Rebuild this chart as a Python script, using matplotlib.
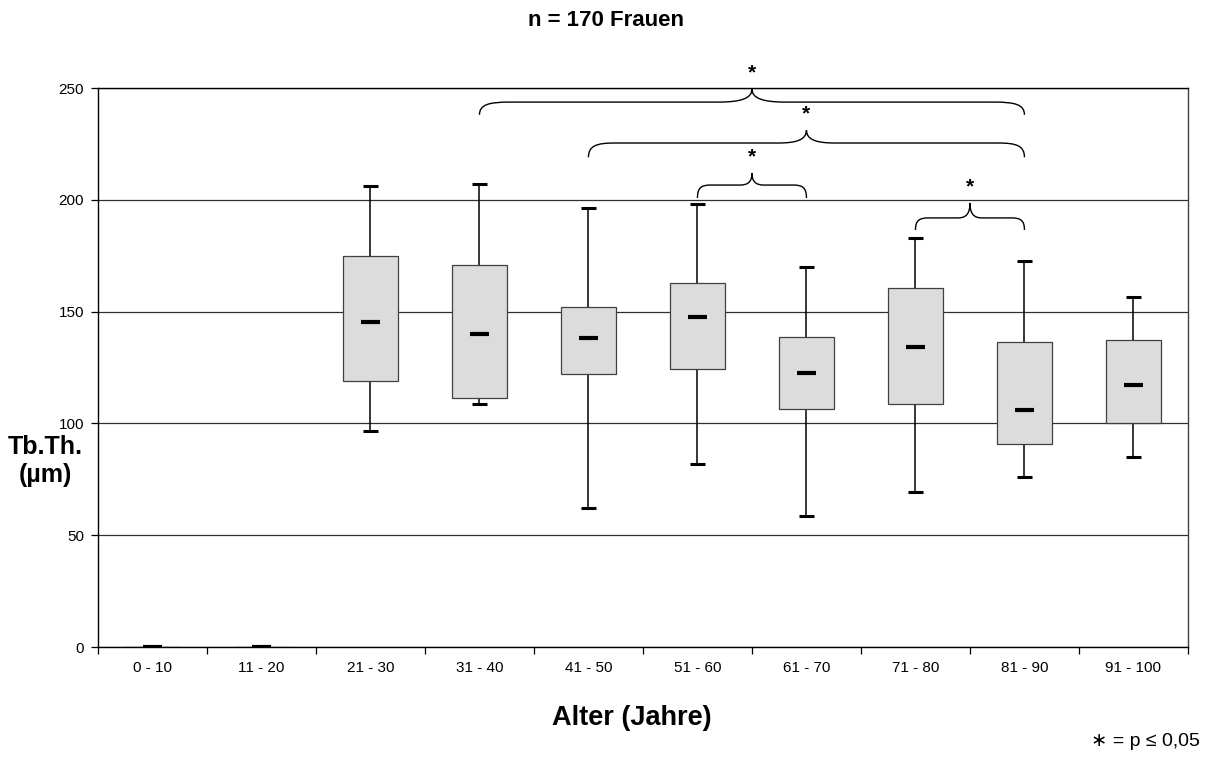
import matplotlib.pyplot as plt
from matplotlib.path import Path
from matplotlib.patches import PathPatch

plt.rcParams['font.family'] = ['Liberation Sans', 'DejaVu Sans']

# Altersgruppen und Kennwerte der Boxplots (Tb.Th. in µm)
gruppen = ['0 - 10', '11 - 20', '21 - 30', '31 - 40', '41 - 50',
           '51 - 60', '61 - 70', '71 - 80', '81 - 90', '91 - 100']
minimum = [0, 0, 96.5, 108.5, 62, 82, 58.5, 69.5, 76, 85]
q1 = [0, 0, 119, 111.5, 122, 124.5, 106.5, 108.5, 91, 100]
median = [0, 0, 145.5, 140, 138, 147.5, 122.5, 134, 106, 117]
q3 = [0, 0, 175, 171, 152, 163, 138.5, 160.5, 136.5, 137.5]
maximum = [0, 0, 206, 207, 196.5, 198, 170, 183, 172.5, 156.5]

# signifikante Vergleiche (Index der Gruppen)
vergleiche = [(3, 8), (4, 8), (5, 6), (7, 8)]
# Höhe der Klammern: Enden, gerader Teil, Spitze
klammer_hoehe = [(238, 243.7, 249.6), (219, 225.4, 231.2),
                 (200.8, 206.6, 212), (186.5, 191.9, 198.6)]


def klammer(ax, x0, x1, ye, yf, yt):
    xm = (x0 + x1) / 2
    c = 0.08 + 0.04 * (x1 - x0)
    m = 0.06 + 0.05 * (x1 - x0)
    verts = [(x0, ye), (x0, ye + (yf - ye) * 0.8), (x0 + c * 0.3, yf), (x0 + c, yf),
             (xm - m, yf),
             (xm - m * 0.35, yf), (xm, yf + (yt - yf) * 0.25), (xm, yt),
             (xm, yf + (yt - yf) * 0.25), (xm + m * 0.35, yf), (xm + m, yf),
             (x1 - c, yf),
             (x1 - c * 0.3, yf), (x1, ye + (yf - ye) * 0.8), (x1, ye)]
    codes = [Path.MOVETO, Path.CURVE4, Path.CURVE4, Path.CURVE4,
             Path.LINETO,
             Path.CURVE4, Path.CURVE4, Path.CURVE4,
             Path.CURVE4, Path.CURVE4, Path.CURVE4,
             Path.LINETO,
             Path.CURVE4, Path.CURVE4, Path.CURVE4]
    ax.add_patch(PathPatch(Path(verts, codes), fill=False, lw=1.0,
                           edgecolor='black', clip_on=False, zorder=4))
    ax.text(xm, yt + 3, '*', ha='center', va='bottom', fontsize=15,
            fontweight='bold', clip_on=False)


fig = plt.figure(figsize=(12.08, 7.58), dpi=100)
ax = fig.add_axes([0.0811, 0.1464, 0.9023, 0.7375])

x = list(range(len(gruppen)))
hoehe = [o - u for o, u in zip(q3, q1)]

ax.vlines(x, q3, maximum, color='black', lw=1.1, zorder=2)
ax.vlines(x, minimum, q1, color='black', lw=1.1, zorder=2)
ax.bar(x, hoehe, bottom=q1, width=0.5, color='#dcdcdc',
       edgecolor='#404040', lw=0.9, zorder=3)
ax.hlines(maximum, [i - 0.07 for i in x], [i + 0.07 for i in x],
          color='black', lw=2.2, zorder=3)
ax.hlines(minimum, [i - 0.07 for i in x], [i + 0.07 for i in x],
          color='black', lw=2.2, zorder=3)
ax.hlines(median, [i - 0.085 for i in x], [i + 0.085 for i in x],
          color='black', lw=3.0, zorder=4)

for (a, b), (ye, yf, yt) in zip(vergleiche, klammer_hoehe):
    klammer(ax, a, b, ye, yf, yt)

ax.set_xlim(-0.5, len(gruppen) - 0.5)
ax.set_ylim(0, 250)
ax.set_yticks([0, 50, 100, 150, 200, 250])
ax.yaxis.grid(True, color='#303030', lw=0.9)
ax.set_axisbelow(True)
ax.set_xticks([i - 0.5 for i in range(len(gruppen) + 1)])
ax.set_xticklabels([])
ax.set_xticks(x, minor=True)
ax.set_xticklabels(gruppen, minor=True)
ax.tick_params(axis='x', which='major', length=5, width=0.9, direction='out')
ax.tick_params(axis='x', which='minor', length=0, pad=10, labelsize=11)
ax.tick_params(axis='y', length=5, width=0.9, pad=5, labelsize=11)
for s in ax.spines.values():
    s.set_linewidth(1.0)
    s.set_color('black')
ax.spines['right'].set_color('#404040')

fig.text(606 / 1208, 1 - 20 / 758, 'n = 170 Frauen', ha='center', va='center',
         fontsize=16, fontweight='bold')
fig.text(45 / 1208, 1 - 461 / 758, 'Tb.Th.\n(µm)', ha='center', va='center',
         fontsize=18, fontweight='bold', linespacing=1.2)
fig.text(632 / 1208, 1 - 718 / 758, 'Alter (Jahre)', ha='center', va='center',
         fontsize=19.5, fontweight='bold')
fig.text(1200 / 1208, 1 - 741 / 758, '∗ = p ≤ 0,05', ha='right', va='center',
         fontsize=14)

fig.savefig('out.png', dpi=100)
